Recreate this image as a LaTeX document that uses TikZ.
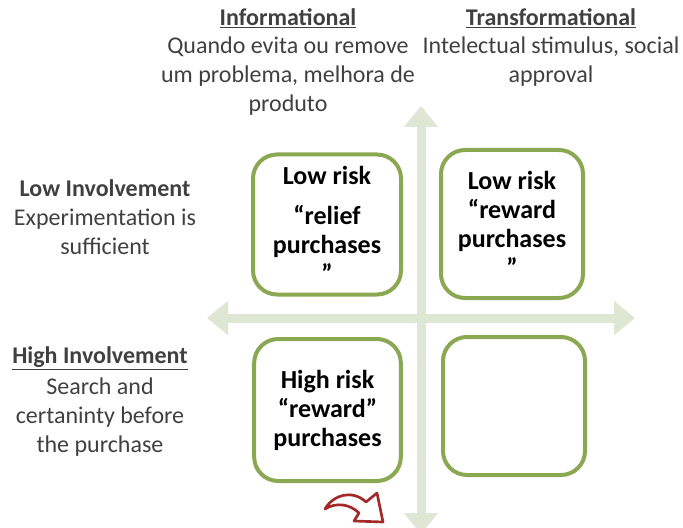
\documentclass[tikz,border=0pt]{standalone}
\usepackage{fontspec}
\setmainfont{Carlito}
\usetikzlibrary{arrows.meta, positioning}
\definecolor{axisgreen}{RGB}{221,231,212}
\definecolor{boxgreen}{RGB}{138,168,82}
\definecolor{textgray}{RGB}{64,64,64}
\definecolor{curvered}{RGB}{165,40,40}

\begin{document}
\begin{tikzpicture}[x=0.75pt, y=-0.75pt,
    quad/.style={draw=boxgreen, line width=3pt, fill=white, rounded corners=18pt, align=center, inner sep=0pt, font=\fontsize{19.5}{21.75}\selectfont\bfseries},
    axis/.style={draw=axisgreen, line width=6.75pt, {Triangle[width=24.75pt,length=15.75pt]}-{Triangle[width=24.75pt,length=15.75pt]}},
    headtext/.style={text=textgray, inner sep=0pt, font=\fontsize{18}{21.75}\selectfont\bfseries},
    desctext/.style={text=textgray, inner sep=0pt, align=center, font=\fontsize{18}{21.75}\selectfont}]
    % Page frame
    \useasboundingbox (0,0) rectangle (683,528);

    % End points of the two axes
    \coordinate (vtop) at (421,106);
    \coordinate (vbot) at (421,534);
    \coordinate (hleft) at (207,318);
    \coordinate (hright) at (635,318);
    \draw[axis] (vbot) -- (vtop); % vertical axis
    \draw[axis] (hleft) -- (hright); % horizontal axis

    % Column headings
    \node[headtext] (info) at (288,18) {\underline{Informational}};
    \node[desctext] (infodesc) at (288,76) {Quando evita ou remove\\um problema, melhora de\\produto};
    \node[headtext] (trans) at (551,18) {\underline{Transformational}};
    \node[desctext] (transdesc) at (551,61.5) {Intelectual stimulus, social\\approval};

    % Row headings
    \node[headtext] (low) at (105,188) {Low Involvement};
    \node[desctext] (lowdesc) at (105,231.5) {Experimentation is\\sufficient};
    \node[headtext] (high) at (100,358) {\underline{High Involvement}};
    \node[desctext] (highdesc) at (100,417) {Search and\\certaninty before\\the purchase};

    % The four boxes
    \node[quad, minimum width=111pt, minimum height=105pt] (lowinfo) at (327,224.5) {Low risk\\[8pt]“relief\\purchases\\”};
    \node[quad, minimum width=106.5pt, minimum height=111pt] (lowtrans) at (512,224) {Low risk\\“reward\\purchases\\”};
    \node[quad, minimum width=110pt, minimum height=106.5pt] (highinfo) at (327.5,410) {High risk\\“reward”\\purchases};
    \node[quad, minimum width=106.5pt, minimum height=103.5pt] (hightrans) at (514,406) {};

    % Red curved arrow below the lower left box
    \coordinate (curvetip) at (325,509);
    \draw[curvered, line width=2pt, fill=white, line join=round]
        (curvetip) .. controls (333,495) and (352,489) .. (366,502) -- (377,493) -- (383,522) -- (354,521)
        -- (359,513) .. controls (350,504) and (336,502) .. (curvetip) -- cycle;
\end{tikzpicture}
\end{document}
